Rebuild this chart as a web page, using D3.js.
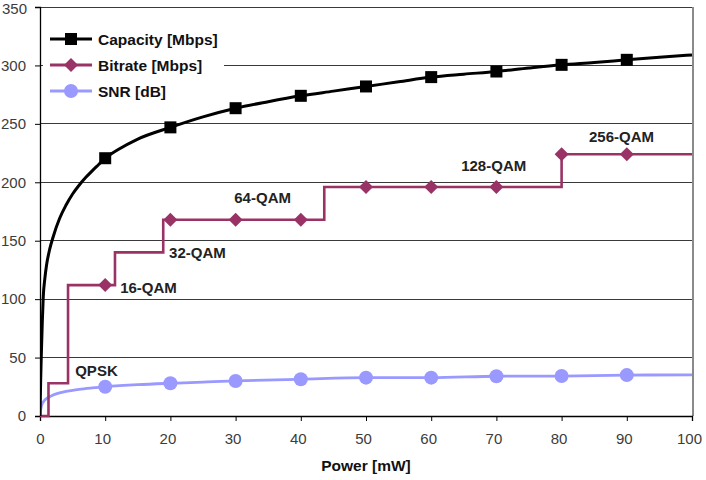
<!DOCTYPE html>
<html><head><meta charset="utf-8">
<script src="https://cdn.jsdelivr.net/npm/d3@7"></script>
<style>body{margin:0;background:#fff}svg{display:block}</style>
</head><body>
<svg id="c" width="706" height="480"></svg>
<script>
// ---- data ----
const xTicks = [0,10,20,30,40,50,60,70,80,90,100];
const yTicks = [0,50,100,150,200,250,300,350];
const seriesNames = ["Capacity [Mbps]","Bitrate [Mbps]","SNR [dB]"];
const markerPower = [10,20,30,40,50,60,70,80,90];
const capacityMarkers = [220.6,247,263.4,274,282,290,294.8,300.5,304.8];
const bitrateMarkers = [112,168,168,168,196,196,196,224,224];
const snrMarkers = [25,28,30,31.5,32.8,32.8,34,34.2,35];
const capacityCurveP = [0,0.1,0.2,0.35,0.5,0.75,1,1.5,2,3,4,5,6,7,8,9,10,12,15,20,25,30,35,40,45,50,55,60,65,70,75,80,85,90,95,100];
const capacityCurveV = [0,30,52,80,102,118,129,143,153,169,180.5,190,197.5,204,209.8,215.2,220.6,228,237,247,256,263.4,269,274,278,282,286,290,292.5,294.8,297.8,300.5,302.5,304.8,307,309];
const snrCurveP = [0.02,0.1,0.25,0.5,1,1.5,2,3,4,5,6,8,10,15,20,25,30,40,50,60,70,80,90,100];
const snrCurveV = [0,5,9,12,15,16.5,18,19.8,21,22,22.8,24,25,26.8,28,29,30,31.5,32.8,32.8,34,34.2,35,35.2];
const bitrateStepP = [0,1.3,4.3,11.5,18.9,43.6,80,100];
const bitrateStepV = [0,28,112,140,168,196,224,224];
const modLabels = ["QPSK","16-QAM","32-QAM","64-QAM","128-QAM","256-QAM"];
const modLabelP = [5.4,12.3,19.8,29.8,64.6,84.2];
const modLabelV = [38.5,109.5,139.5,186.5,213.9,238.6];
const xTitle = "Power [mW]";

// ---- drawing ----
const svg = d3.select("#c");
const x = d3.scaleLinear().domain([0,100]).range([40,692]);
const y = d3.scaleLinear().domain([0,350]).range([416,7]);
const colors = ["#000000","#993366","#9999ff"];

// gridlines
svg.append("g").selectAll("line").data(yTicks.filter(d=>d>0)).join("line")
  .attr("x1",x(0)).attr("x2",x(100)).attr("y1",d=>y(d)).attr("y2",d=>y(d))
  .attr("stroke","#3a3a3a").attr("stroke-width",1).attr("shape-rendering","crispEdges");
// right border
svg.append("line").attr("x1",x(100)+1).attr("x2",x(100)+1).attr("y1",y(350)).attr("y2",y(0))
  .attr("stroke","#8a8a8a").attr("stroke-width",2).attr("shape-rendering","crispEdges");

// axes
const yAxis = svg.append("g").attr("transform",`translate(${x(0)},0)`)
  .call(d3.axisLeft(y).tickValues(yTicks).tickSize(5).tickPadding(8));
const xAxis = svg.append("g").attr("transform",`translate(0,${y(0)})`)
  .call(d3.axisBottom(x).tickValues(xTicks).tickSize(5).tickPadding(12));
[yAxis,xAxis].forEach(a=>{
  a.select(".domain").attr("stroke","#000").attr("stroke-width",1.3);
  a.selectAll(".tick line").attr("stroke","#000");
  a.selectAll("text").attr("font-family","Liberation Sans, Arial, sans-serif")
    .attr("font-size",15).attr("fill","#3c3c3c");
});
yAxis.selectAll(".tick text").attr("dx",d=>d===350?0:-1).attr("dy",d=>d===350?"0.45em":"0.32em");
xAxis.selectAll(".tick text").attr("dx",d=>d===0?0:-3);

svg.append("text").attr("x",366).attr("y",471).attr("text-anchor","middle")
  .attr("font-family","Liberation Sans, Arial, sans-serif").attr("font-weight","bold")
  .attr("font-size",15.5).attr("fill","#111").text(xTitle);

// clip
svg.append("clipPath").attr("id","pc").append("rect")
  .attr("x",x(0)).attr("y",y(350)).attr("width",x(100)-x(0)+2).attr("height",y(0)-y(350)+2);
const plot = svg.append("g").attr("clip-path","url(#pc)");

const smooth = d3.line().x(d=>x(d[0])).y(d=>y(d[1])).curve(d3.curveMonotoneX);
// SNR
plot.append("path").datum(snrCurveP.map((p,i)=>[p,snrCurveV[i]]))
  .attr("d",smooth).attr("fill","none")
  .attr("stroke",colors[2]).attr("stroke-width",2.8);
// Bitrate
plot.append("path").datum(bitrateStepP.map((p,i)=>[p,bitrateStepV[i]]))
  .attr("d",d3.line().x(d=>x(d[0])).y(d=>y(d[1])).curve(d3.curveStepAfter))
  .attr("fill","none").attr("stroke",colors[1]).attr("stroke-width",2.6);
// Capacity
plot.append("path").datum(capacityCurveP.map((p,i)=>[p,capacityCurveV[i]]))
  .attr("d",smooth)
  .attr("fill","none").attr("stroke",colors[0]).attr("stroke-width",3);

// markers
svg.append("g").selectAll("circle").data(markerPower).join("circle")
  .attr("cx",d=>x(d)).attr("cy",(d,i)=>y(snrMarkers[i])).attr("r",7).attr("fill",colors[2]);
svg.append("g").selectAll("path").data(markerPower).join("path")
  .attr("transform",(d,i)=>`translate(${x(d)},${y(bitrateMarkers[i])})`)
  .attr("fill",colors[1]).attr("d","M0,-7L7,0L0,7L-7,0Z");
svg.append("g").selectAll("rect").data(markerPower).join("rect")
  .attr("x",d=>x(d)-6).attr("y",(d,i)=>y(capacityMarkers[i])-6).attr("width",12).attr("height",12).attr("fill",colors[0]);

// modulation labels
svg.append("g").selectAll("text").data(modLabels).join("text")
  .attr("x",(d,i)=>x(modLabelP[i])).attr("y",(d,i)=>y(modLabelV[i]))
  .attr("dy","0.35em")
  .attr("font-family","Liberation Sans, Arial, sans-serif").attr("font-weight","bold")
  .attr("font-size",15).attr("fill","#222").text(d=>d);

// legend
const lg = svg.append("g");
lg.append("rect").attr("x",43).attr("y",24).attr("width",181).attr("height",80).attr("fill","#fff");
const rowsY = [39,65,91];
seriesNames.forEach((name,i)=>{
  const g = lg.append("g").attr("transform",`translate(0,${rowsY[i]})`);
  g.append("line").attr("x1",50).attr("x2",92).attr("y1",0).attr("y2",0)
    .attr("stroke",colors[i]).attr("stroke-width",3);
  if(i===0) g.append("rect").attr("x",65).attr("y",-6).attr("width",12).attr("height",12).attr("fill",colors[0]);
  if(i===1) g.append("path").attr("transform","translate(71,0)").attr("d","M0,-7L7,0L0,7L-7,0Z").attr("fill",colors[1]);
  if(i===2) g.append("circle").attr("cx",71).attr("cy",0).attr("r",7).attr("fill",colors[2]);
  g.append("text").attr("x",98).attr("y",0).attr("dy","0.36em")
    .attr("font-family","Liberation Sans, Arial, sans-serif").attr("font-weight","bold")
    .attr("font-size",15.5).attr("fill","#111").text(name);
});
</script>
</body></html>
